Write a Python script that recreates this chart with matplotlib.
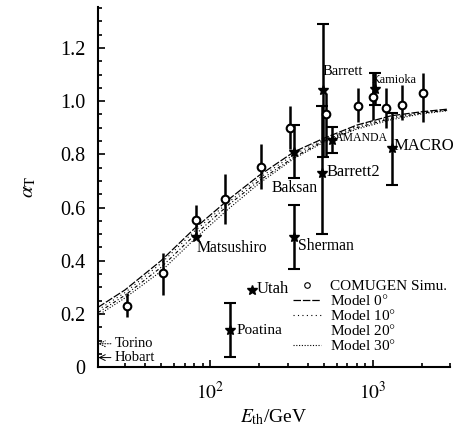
import numpy as np
import matplotlib
matplotlib.use("Agg")
import matplotlib.pyplot as plt
from matplotlib.lines import Line2D

plt.rcParams['font.family'] = ['Liberation Serif', 'DejaVu Serif']
plt.rcParams['mathtext.fontset'] = 'stix'

# COMUGEN simulation points
sim_E = [31, 51.5, 82, 124, 205, 310, 515, 809, 1000, 1204, 1507, 2028]
sim_a = [0.23, 0.355, 0.553, 0.632, 0.752, 0.90, 0.95, 0.98, 1.016, 0.974, 0.986, 1.03]
sim_lo = [0.04, 0.085, 0.053, 0.092, 0.082, 0.08, 0.16, 0.06, 0.086, 0.074, 0.056, 0.11]
sim_hi = [0.05, 0.075, 0.057, 0.094, 0.088, 0.08, 0.08, 0.07, 0.094, 0.076, 0.074, 0.076]

# experiments
exp_names = ['Matsushiro', 'Baksan', 'Sherman', 'Barrett', 'Barrett2', 'AMANDA', 'Kamioka', 'MACRO', 'Poatina', 'Utah']
exp_E = [82, 327, 327, 493, 486, 560, 1028, 1309, 133, 181]
exp_a = [0.49, 0.81, 0.49, 1.04, 0.73, 0.854, 1.046, 0.824, 0.14, 0.29]
exp_lo = [0.0, 0.10, 0.12, 0.25, 0.23, 0.05, 0.06, 0.14, 0.10, 0.0]
exp_hi = [0.0, 0.10, 0.12, 0.25, 0.25, 0.05, 0.06, 0.13, 0.10, 0.0]

# model curves
model_E = [20.5, 30, 50, 80, 130, 200, 330, 500, 800, 1300, 2000, 2900]
model_0 = [0.225, 0.29, 0.40, 0.52, 0.63, 0.72, 0.81, 0.86, 0.91, 0.945, 0.96, 0.97]
model_10 = [0.215, 0.28, 0.39, 0.51, 0.62, 0.71, 0.80, 0.855, 0.905, 0.94, 0.958, 0.968]
model_20 = [0.205, 0.27, 0.375, 0.495, 0.61, 0.70, 0.79, 0.85, 0.90, 0.935, 0.955, 0.966]
model_30 = [0.195, 0.26, 0.36, 0.48, 0.595, 0.69, 0.785, 0.845, 0.895, 0.93, 0.952, 0.964]

fig = plt.figure(figsize=(4.58, 4.34), dpi=100)
ax = fig.add_axes([0.214, 0.154, 0.769, 0.830])

ax.plot(model_E, model_0, color='black', lw=0.9, ls=(0, (6, 1.5)))
ax.plot(model_E, model_10, color='black', lw=0.8, ls=(0, (1, 3)))
ax.plot(model_E, model_20, color='black', lw=0.8, ls=(0, (3, 2, 1, 2)))
ax.plot(model_E, model_30, color='black', lw=0.8, ls=(0, (1, 1.5)))

ax.errorbar(sim_E, sim_a, yerr=[sim_lo, sim_hi], fmt='o', ms=5.5, mfc='white',
            mec='black', mew=1.5, ecolor='black', elinewidth=1.8, capsize=0, zorder=4)

for n, e, a, lo, hi in zip(exp_names, exp_E, exp_a, exp_lo, exp_hi):
    if lo > 0 or hi > 0:
        ax.errorbar([e], [a], yerr=[[lo], [hi]], fmt='none', ecolor='black',
                    elinewidth=1.8, capsize=4, capthick=1.5, zorder=3)
    ax.plot([e], [a], marker='*', color='black', ms=7, ls='none', zorder=5)

# labels
lab = {
    'Matsushiro': (83.2, 0.448, 11.3),
    'Baksan': (240, 0.673, 11.3),
    'Sherman': (347, 0.455, 11.3),
    'Barrett': (493, 1.11, 10.5),
    'Barrett2': (522, 0.733, 11.8),
    'AMANDA': (585, 0.862, 8.5),
    'Kamioka': (986, 1.08, 8.8),
    'MACRO': (1345, 0.83, 12),
    'Poatina': (146, 0.139, 11),
    'Utah': (194, 0.294, 12),
}
for n, (x, y, fs) in lab.items():
    ax.text(x, y, n, fontsize=fs, ha='left', va='center')

# Torino / Hobart arrows at left edge
ax.annotate('Torino', xy=(20.6, 0.088), xytext=(26.1, 0.088), fontsize=10.5,
            va='center', ha='left',
            arrowprops=dict(arrowstyle='->', lw=0.7, ls=':', color='black', shrinkA=1, shrinkB=0))
ax.annotate('Hobart', xy=(20.6, 0.036), xytext=(26.1, 0.036), fontsize=10.5,
            va='center', ha='left',
            arrowprops=dict(arrowstyle='->', lw=0.7, color='black', shrinkA=1, shrinkB=0))

ax.set_xscale('log')
ax.set_xlim(20.5, 3000)
ax.set_ylim(0, 1.354)
ax.set_yticks([0, 0.2, 0.4, 0.6, 0.8, 1.0, 1.2])
ax.set_yticklabels(['0', '0.2', '0.4', '0.6', '0.8', '1.0', '1.2'])
ax.set_yticks(np.arange(0, 1.351, 0.05), minor=True)
ax.set_xticks([100, 1000])
ax.set_xticklabels([r'$10^2$', r'$10^3$'])
ax.tick_params(which='both', direction='in', width=1.2)
ax.tick_params(which='major', length=5, pad=8)
ax.tick_params(which='minor', length=3)
ax.tick_params(axis='y', labelsize=14.5, pad=9)
ax.tick_params(axis='x', labelsize=14, pad=10)
for s in ['top', 'right']:
    ax.spines[s].set_visible(False)
for s in ['left', 'bottom']:
    ax.spines[s].set_linewidth(1.5)

ax.set_xlabel(r'$E_{\rm th}$/GeV', fontsize=14, labelpad=3)
ax.set_ylabel(r'$\alpha_{\rm T}$', fontsize=15, labelpad=16)

handles = [
    Line2D([], [], marker='o', ls='none', mfc='white', mec='black', ms=4, mew=0.8),
    Line2D([], [], color='black', lw=0.9, ls=(0, (6, 1.5))),
    Line2D([], [], color='black', lw=0.8, ls=(0, (1, 3))),
    Line2D([], [], color='black', lw=0.8, ls=(0, (3, 2, 1, 2)), alpha=0.0),
    Line2D([], [], color='black', lw=0.8, ls=(0, (1, 1.5))),
]
labels = ['COMUGEN Simu.', r'Model 0$\degree$', r'Model 10$\degree$',
          r'Model 20$\degree$', r'Model 30$\degree$']
ax.legend(handles, labels, loc='lower right', bbox_to_anchor=(1.03, 0.0),
          frameon=False, fontsize=11, handlelength=1.8, handletextpad=0.6,
          labelspacing=0.0, borderaxespad=0.5)

fig.savefig('out.png', dpi=100)
